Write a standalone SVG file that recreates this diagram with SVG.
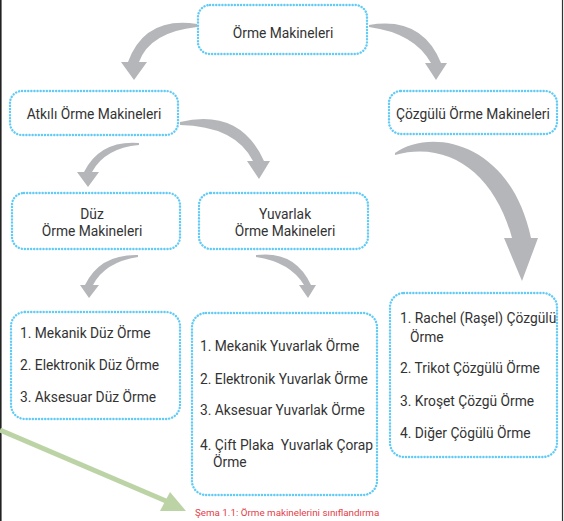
<svg xmlns="http://www.w3.org/2000/svg" width="564" height="521" viewBox="0 0 564 521">
<defs>
<style>
.box{fill:#ffffff;stroke:#62cbf5;stroke-width:2.4;stroke-dasharray:0.1 3;stroke-linecap:round}
.t{font-family:Roboto,"Liberation Sans",sans-serif;font-size:13.8px;fill:#333333;white-space:pre}
.c{text-anchor:middle}
.arr{fill:#b5b6b9}
.cap{font-family:Roboto,"Liberation Sans",sans-serif;font-size:9.8px;fill:#e5404a}
</style>
</defs>
<rect x="0" y="0" width="564" height="521" fill="#ffffff"/>
<line x1="0.8" y1="0" x2="0.8" y2="521" stroke="#222" stroke-width="1.6"/>
<line x1="562.5" y1="0" x2="562.5" y2="521" stroke="#333" stroke-width="1.2"/>
<g id="connectors">
<path class="arr" d="M197,24 Q145,16 128,62 L121,62 L134,80 L147,62 L139,62 Q150,32 197,27 Z"/>
<path class="arr" d="M369,25 Q422,16 441,63 L447,63 L436,80 L425,63 L431,63 Q414,33 369,27 Z"/>
<path class="arr" d="M180,122 Q240,108 264,161 L270,161 L259,179 L247,161 L253,161 Q235,126 180,125 Z"/>
<path class="arr" d="M139,143 Q100,140 84,172 L77,172 L88,187 L99,172 L92,172 Q105,148 139,145 Z"/>
<path class="arr" d="M138,255 Q100,254 85,285 L80,285 L89,298 L99,285 L93,285 Q105,262 138,257 Z"/>
<path class="arr" d="M256,255 Q295,250 311,285 L316,285 L308,298 L299,285 L304,285 Q290,262 256,257 Z"/>
<path class="arr" d="M395,153 C430,128 510,140 531,238 L538,238 L522,281 L504,238 L512,238 C495,175 450,140 395,155 Z"/>
<line x1="0" y1="430" x2="166" y2="501" stroke="#bcd4a5" stroke-width="5"/>
<polygon points="160,511 170,492 186,511" fill="#bcd4a5"/>
</g>
<g id="n-orme">
<rect class="box" x="198" y="5" width="169" height="49" rx="12"/>
<text class="t c" x="283" y="37.5">Örme Makineleri</text>
</g>
<g id="n-atkili">
<rect class="box" x="10" y="91" width="168" height="44" rx="12"/>
<text class="t c" x="94" y="119">Atkılı Örme Makineleri</text>
</g>
<g id="n-cozgulu">
<rect class="box" x="389" y="91" width="168" height="43" rx="12"/>
<text class="t c" x="473" y="119">Çözgülü Örme Makineleri</text>
</g>
<g id="n-duz">
<rect class="box" x="12" y="193" width="168" height="56" rx="12"/>
<text class="t c" x="92" y="219">Düz</text>
<text class="t c" x="92" y="236">Örme Makineleri</text>
</g>
<g id="n-yuvarlak">
<rect class="box" x="199" y="193" width="169" height="56" rx="12"/>
<text class="t c" x="285" y="219">Yuvarlak</text>
<text class="t c" x="285" y="236">Örme Makineleri</text>
</g>
<g id="n-duz-list">
<rect class="box" x="11" y="312" width="169" height="107" rx="14"/>
<text class="t" x="20" y="338">1. Mekanik Düz Örme</text>
<text class="t" x="20" y="370">2. Elektronik Düz Örme</text>
<text class="t" x="20" y="402">3. Aksesuar Düz Örme</text>
</g>
<g id="n-yuvarlak-list">
<rect class="box" x="192" y="313" width="185" height="182" rx="14"/>
<text class="t" x="200" y="351">1. Mekanik Yuvarlak Örme</text>
<text class="t" x="200" y="384">2. Elektronik Yuvarlak Örme</text>
<text class="t" x="200" y="415">3. Aksesuar Yuvarlak Örme</text>
<text class="t" x="200" y="450" xml:space="preserve">4. Çift Plaka  Yuvarlak Çorap</text>
<text class="t" x="213" y="467">Örme</text>
</g>
<g id="n-cozgulu-list">
<rect class="box" x="390" y="293" width="167" height="164" rx="14"/>
<text class="t" x="400" y="323">1. Rachel (Raşel) Çözgülü</text>
<text class="t" x="410" y="342">Örme</text>
<text class="t" x="400" y="373">2. Trikot Çözgülü Örme</text>
<text class="t" x="400" y="406">3. Kroşet Çözgü Örme</text>
<text class="t" x="400" y="438">4. Diğer Çögülü Örme</text>
</g>
<text class="cap" x="195" y="516">Şema 1.1: Örme makinelerini sınıflandırma</text>
</svg>
